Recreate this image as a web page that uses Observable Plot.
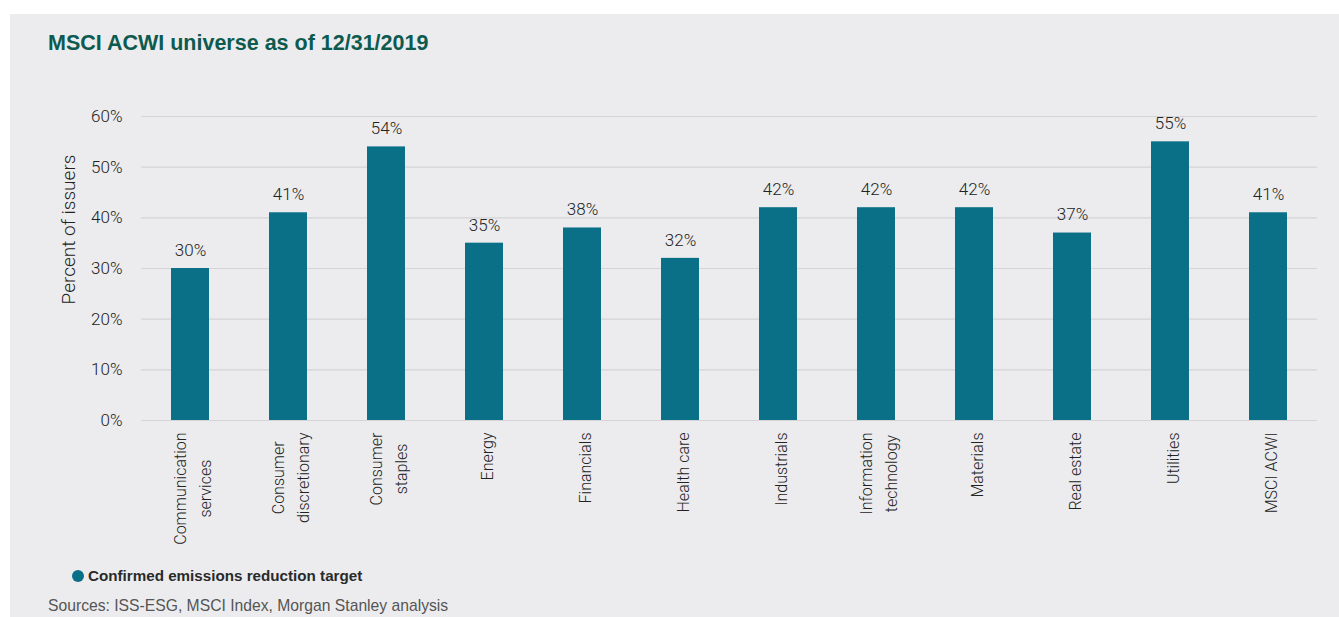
<!DOCTYPE html>
<html>
<head>
<meta charset="utf-8">
<script src="https://cdn.jsdelivr.net/npm/d3@7"></script>
<script src="https://cdn.jsdelivr.net/npm/@observablehq/plot@0.6"></script>
<style>
  html, body { margin: 0; padding: 0; background: #ffffff; }
  #panel {
    position: absolute; left: 10px; top: 14px; width: 1329px; height: 603px;
    background: #ececee; font-family: Roboto, "Liberation Sans", sans-serif;
    overflow: hidden;
  }
  #title {
    position: absolute; left: 38px; top: 17px; margin: 0;
    font-family: "Liberation Sans", Arial, sans-serif; font-weight: bold;
    font-size: 21.5px; color: #0d5a4f;
  }
  #chart { position: absolute; left: 0; top: 46px; }
  #legend {
    position: absolute; left: 62px; top: 553px; font-family: "Liberation Sans", Arial, sans-serif;
    font-weight: bold; font-size: 15.2px; color: #2a2a2a; display: flex; align-items: center;
  }
  #legend .dot { width: 12px; height: 12px; border-radius: 50%; background: #0a7088; margin-right: 4px; }
  #source {
    position: absolute; left: 38px; top: 583px; font-size: 15.7px; color: #555;
    font-family: "Liberation Sans", Arial, sans-serif;
  }
</style>
</head>
<body>
<div id="panel">
  <div id="title">MSCI ACWI universe as of 12/31/2019</div>
  <div id="chart"></div>
  <div id="legend"><span class="dot"></span>Confirmed emissions reduction target</div>
  <div id="source">Sources: ISS-ESG, MSCI Index, Morgan Stanley analysis</div>
</div>
<script>
const categories = [
  "Communication services", "Consumer discretionary", "Consumer staples", "Energy",
  "Financials", "Health care", "Industrials", "Information technology",
  "Materials", "Real estate", "Utilities", "MSCI ACWI"
];
const tickLabels = [
  "Communication\nservices", "Consumer\ndiscretionary", "Consumer\nstaples", "Energy",
  "Financials", "Health care", "Industrials", "Information\ntechnology",
  "Materials", "Real estate", "Utilities", "MSCI ACWI"
];
const values = [30, 41, 54, 35, 38, 32, 42, 42, 42, 37, 55, 41];
const yTicks = [0, 10, 20, 30, 40, 50, 60];
const seriesName = "Confirmed emissions reduction target";

const data = categories.map((c, i) => ({category: c, label: tickLabels[i], value: values[i]}));
const barColor = "#0a7088";

const plot = Plot.plot({
  width: 1329,
  height: 500,
  marginLeft: 131,
  marginRight: 22,
  marginTop: 56,
  marginBottom: 140,
  style: {background: "transparent", fontFamily: "Roboto, 'Liberation Sans', sans-serif", overflow: "visible"},
  x: {domain: categories, paddingInner: 0.61, paddingOuter: 0.305, axis: null},
  y: {domain: [0, 60], ticks: yTicks, axis: null},
  marks: [
    Plot.gridY(yTicks, {stroke: "#d4d4d6", strokeOpacity: 1, strokeWidth: 1.2}),
    Plot.barY(data, {x: "category", y: "value", fill: barColor}),
    Plot.text(data, {x: "category", y: "value", text: d => d.value + "%", dy: -18,
      fontSize: 17, fontWeight: 300, fill: "#222", letterSpacing: 2}),
    Plot.text(yTicks, {y: d => d, frameAnchor: "left", text: d => d + "%", textAnchor: "end",
      dx: -19, fontSize: 17, fontWeight: 300, fill: "#222", letterSpacing: 1.5}),
    Plot.text([ "Percent of issuers" ], {frameAnchor: "left", text: d => d, rotate: -90,
      textAnchor: "middle", dx: -73, dy: -39, fontSize: 19, fontWeight: 300, fill: "#222", letterSpacing: 0.6}),
    Plot.text(data, {x: "category", frameAnchor: "bottom", text: "label", rotate: -90,
      textAnchor: "end", lineAnchor: "middle", lineHeight: 1.6, dy: 12, fontSize: 16, fontWeight: 300, fill: "#222"})
  ]
});
document.getElementById("chart").appendChild(plot);

// center shorter lines within each multi-line rotated label block
plot.querySelectorAll("text").forEach(t => {
  const spans = t.querySelectorAll("tspan");
  if (spans.length > 1) {
    let L = 0;
    spans.forEach(s => { L = Math.max(L, s.getComputedTextLength()); });
    t.setAttribute("text-anchor", "middle");
    spans.forEach(s => s.setAttribute("x", -L / 2));
  }
});
</script>
</body>
</html>
